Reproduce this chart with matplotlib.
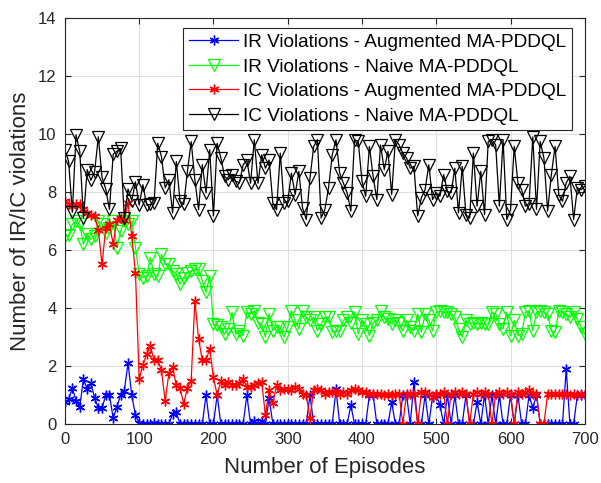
import matplotlib
matplotlib.use("Agg")
import matplotlib.pyplot as plt

plt.rcParams["font.family"] = ["Liberation Sans", "DejaVu Sans"]

episodes = list(range(0, 701, 5))

ir_augmented = [
    0.75, 0.85, 1.25, 0.8, 0.6, 1.55, 1.2, 1.4, 0.9, 0.55,
    0.55, 1.0, 1.0, 0.2, 0.6, 1.0, 1.15, 2.1, 1.0, 0.3,
    0.05, 0, 0, 0, 0.05, 0, 0, 0, 0, 0.35,
    0.4, 0, 0, 0, 0, 0, 0, 0, 1.0, 0,
    0, 1.0, 0, 0, 0, 0, 0, 0, 0, 1.0,
    0, 0.1, 0, 0.1, 0, 0.9, 0, 0, 0, 0,
    0, 0, 0, 0, 0, 0, 1.0, 0, 0, 0,
    0, 0, 0, 1.2, 0, 0, 0, 0.65, 0, 0,
    0, 0, 1.0, 1.0, 0, 0, 0, 0, 0.75, 0,
    0, 1.0, 1.0, 0, 1.45, 0, 0, 1.0, 0, 0.94,
    1.0, 0.65, 0, 1.0, 0, 1.0, 0, 0, 1.0, 0,
    0, 0.75, 0, 1.0, 0, 1.0, 0, 1.0, 0, 0,
    1.0, 0, 1.0, 0, 0, 1.0, 0.55, 1.0, 0, 0,
    0, 0, 0, 0, 0, 1.9, 0, 0, 1.0, 1.0,
    1.0,
]

ir_naive = [
    6.48, 6.5, 6.88, 7.0, 6.88, 6.2, 6.54, 6.37, 6.48, 7.0,
    6.88, 6.6, 6.77, 7.0, 6.08, 6.65, 7.0, 6.88, 7.0, 6.08,
    5.17, 5.05, 5.1, 5.74, 5.17, 5.1, 5.85, 5.5, 5.5, 5.28,
    5.17, 4.82, 5.05, 5.22, 5.28, 5.34, 5.34, 4.94, 4.54, 5.1,
    3.45, 3.4, 3.34, 3.1, 3.28, 3.85, 3.1, 3.22, 3.05, 3.85,
    3.8, 3.9, 3.5, 3.45, 3.0, 3.8, 3.22, 3.34, 3.34, 3.0,
    3.34, 3.9, 3.57, 3.28, 3.9, 3.68, 3.57, 3.68, 3.22, 3.45,
    3.68, 3.68, 3.17, 3.22, 3.22, 3.57, 3.68, 3.5, 3.85, 3.1,
    3.57, 3.45, 3.05, 3.5, 3.57, 3.9, 3.68, 3.62, 3.45, 3.57,
    3.5, 3.22, 3.57, 3.34, 3.22, 3.8, 3.17, 3.8, 3.57, 3.22,
    3.85, 3.9, 3.85, 3.85, 3.8, 3.68, 3.28, 3.0, 3.57, 3.45,
    3.5, 3.45, 3.5, 3.45, 3.45, 3.85, 3.8, 3.45, 3.28, 3.85,
    3.05, 3.57, 3.05, 3.1, 3.85, 3.9, 3.22, 3.85, 3.9, 3.85,
    3.8, 3.22, 3.17, 3.9, 3.85, 3.8, 3.68, 3.85, 3.62, 3.34,
    3.1,
]

ic_augmented = [
    7.68, 7.57, 7.5, 7.57, 7.57, 7.4, 7.28, 7.2, 7.17, 6.7,
    5.5, 6.77, 6.88, 6.2, 7.05, 7.1, 7.05, 7.62, 6.48, 5.22,
    1.55, 2.05, 2.4, 2.7, 2.2, 2.2, 1.85, 0.8, 1.75, 1.95,
    1.35, 1.25, 0.7, 1.25, 1.5, 4.25, 2.94, 2.2, 2.2, 2.6,
    1.62, 1.0, 1.5, 1.34, 1.45, 1.34, 1.34, 1.4, 1.57, 1.28,
    1.28, 1.34, 1.4, 1.45, 0.3, 1.17, 0.71, 1.34, 1.17, 1.22,
    1.22, 1.17, 1.28, 1.22, 1.05, 1.0, 0.2, 1.17, 1.22, 1.17,
    1.05, 1.1, 1.1, 1.1, 1.05, 1.1, 1.05, 1.17, 1.22, 1.17,
    1.1, 1.1, 1.05, 1.05, 1.05, 1.05, 1.0, 1.05, 1.0, 1.05,
    1.05, 0, 1.05, 1.05, 1.05, 0, 1.1, 1.1, 1.05, 0.94,
    1.05, 1.05, 1.1, 0, 1.05, 1.1, 1.05, 1.1, 1.05, 0,
    1.05, 1.1, 1.05, 1.1, 1.05, 0, 1.05, 1.1, 1.05, 1.1,
    1.05, 0, 1.1, 1.05, 1.1, 1.17, 1.05, 1.05, 0, 0,
    1.05, 1.05, 1.05, 1.05, 1.05, 1.05, 1.0, 1.05, 1.0, 1.05,
    1.05,
]

ic_naive = [
    9.45, 9.05, 7.3, 9.97, 9.4, 7.1, 8.77, 8.4, 8.7, 9.9,
    8.5, 8.1, 7.4, 9.3, 9.4, 9.5, 7.1, 8.1, 7.7, 8.35,
    7.55, 8.25, 7.55, 7.57, 7.62, 9.68, 9.22, 8.14, 8.42, 7.28,
    9.05, 7.68, 7.57, 8.71, 9.74, 8.42, 7.39, 8.94, 7.97, 9.45,
    7.17, 9.68, 9.17, 8.54, 8.42, 8.6, 8.37, 8.31, 8.94, 9.1,
    8.3, 9.8, 8.3, 9.28, 8.82, 9.1, 7.62, 7.39, 9.34, 7.62,
    7.68, 8.65, 7.91, 8.71, 7.45, 7.05, 8.48, 9.57, 9.8, 7.1,
    7.39, 8.14, 9.28, 9.8, 8.65, 8.3, 7.97, 7.34, 9.8, 9.74,
    8.37, 7.85, 9.57, 8.54, 7.74, 9.62, 8.77, 9.4, 7.91, 9.8,
    9.62, 9.34, 9.17, 8.82, 8.88, 7.17, 7.8, 8.08, 8.94, 7.74,
    7.97, 7.85, 8.6, 8.02, 7.97, 8.82, 7.28, 8.88, 7.22, 7.1,
    9.34, 7.51, 8.71, 7.22, 9.74, 9.8, 9.62, 7.51, 9.8, 7.05,
    7.39, 9.57, 8.31, 8.08, 7.51, 7.6, 9.9, 7.4, 9.74, 9.17,
    7.34, 8.6, 9.57, 7.91, 7.68, 8.31, 8.54, 7.05, 8.14, 8.08,
    8.2,
]

labels = [
    "IR Violations - Augmented MA-PDDQL",
    "IR Violations - Naive MA-PDDQL",
    "IC Violations - Augmented MA-PDDQL",
    "IC Violations - Naive MA-PDDQL",
]

dark = "#262626"
asterisk = (6, 2, 0)

fig = plt.figure(figsize=(6.01, 4.83), dpi=100)
ax = fig.add_axes([0.108, 0.122, 0.865, 0.841])

ax.plot(episodes, ir_augmented, color="blue", lw=0.9, marker=asterisk,
        ms=7, mew=1.0, label=labels[0])
ax.plot(episodes, ir_naive, color="#00ff00", lw=0.9, marker="v", ms=8.5,
        mfc="none", mew=0.9, label=labels[1])
ax.plot(episodes, ic_augmented, color="red", lw=0.9, marker=asterisk,
        ms=7, mew=1.0, label=labels[2])
ax.plot(episodes, ic_naive, color="black", lw=0.9, marker="v", ms=8.5,
        mfc="none", mew=0.9, label=labels[3])

ax.set_xlim(0, 700)
ax.set_ylim(0, 14)
ax.set_xticks(range(0, 701, 100))
ax.set_yticks(range(0, 15, 2))
ax.grid(True, color="#dfdfdf", lw=0.8)
ax.set_axisbelow(True)
ax.tick_params(direction="in", top=True, right=True, labelsize=12,
               colors=dark, length=4, width=0.8, pad=6)
for s in ax.spines.values():
    s.set_color(dark)
    s.set_linewidth(0.8)

ax.set_xlabel("Number of Episodes", fontsize=16, color=dark, labelpad=7)
ax.set_ylabel("Number of IR/IC violations", fontsize=16, color=dark, labelpad=5)

leg = ax.legend(loc="upper right", bbox_to_anchor=(0.9755, 0.975),
                borderaxespad=0, fontsize=13.7, fancybox=False,
                framealpha=1, edgecolor=dark, handlelength=2.6,
                handletextpad=0.25, labelspacing=0.38, borderpad=0.3)
leg.get_frame().set_linewidth(0.8)

fig.savefig("out.png", dpi=100)
